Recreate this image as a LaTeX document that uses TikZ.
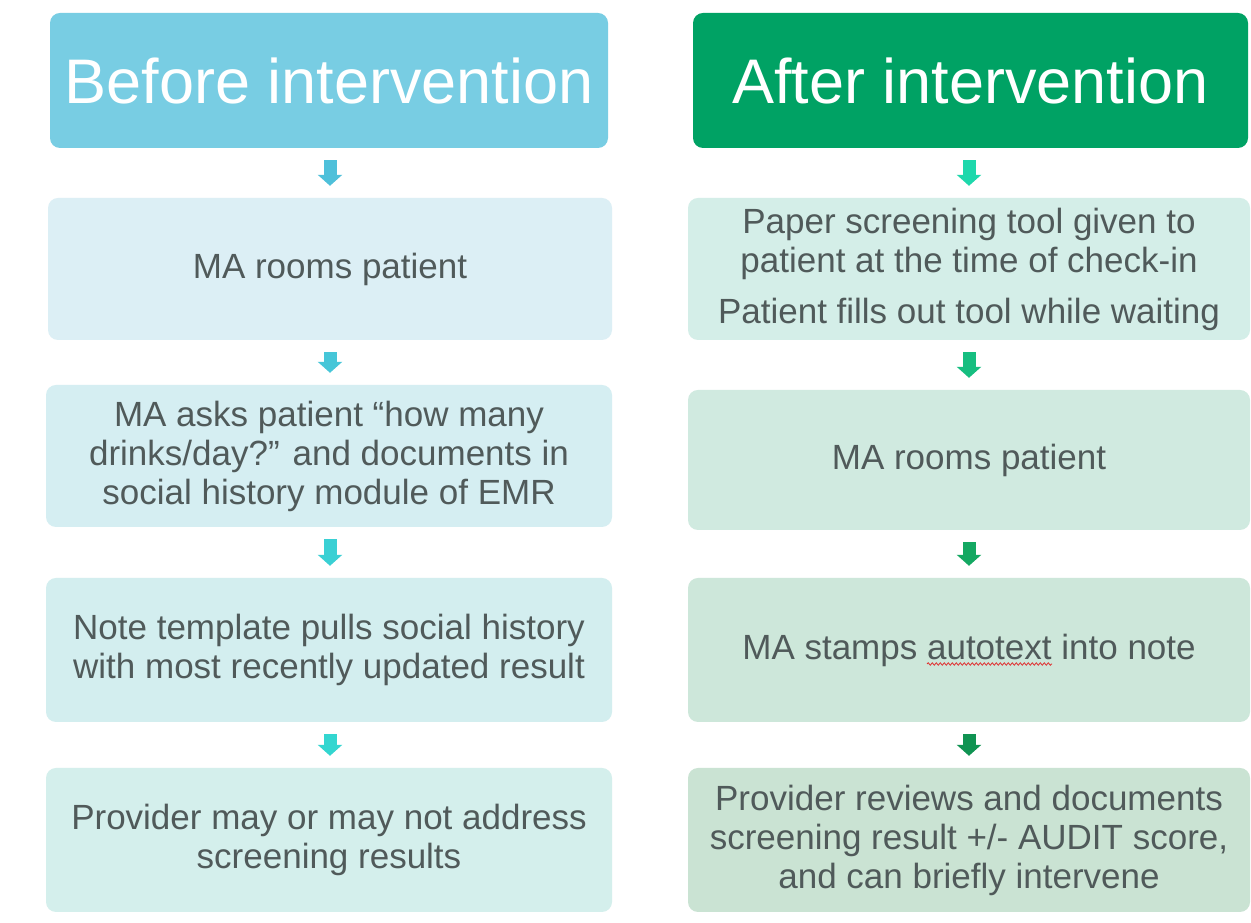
\documentclass[tikz,border=0pt]{standalone}
\usepackage{fontspec}
\setmainfont{Liberation Sans}
\usetikzlibrary{arrows.meta,decorations.pathmorphing}
\definecolor{hdrleft}{HTML}{78CDE3}
\definecolor{hdrright}{HTML}{00A264}
\definecolor{txtgray}{HTML}{505A5A}
\definecolor{lfillA}{HTML}{DCEFF5}
\definecolor{lfillB}{HTML}{D5EEF2}
\definecolor{lfillC}{HTML}{D3EEEF}
\definecolor{lfillD}{HTML}{D4EFEC}
\definecolor{rfillA}{HTML}{D4EEE8}
\definecolor{rfillB}{HTML}{D0EAE0}
\definecolor{rfillC}{HTML}{CDE7DA}
\definecolor{rfillD}{HTML}{CAE3D3}
\definecolor{larA}{HTML}{4EC0DA}
\definecolor{larB}{HTML}{46C6D8}
\definecolor{larC}{HTML}{3AD0D4}
\definecolor{larD}{HTML}{33D6D0}
\definecolor{rarA}{HTML}{1ED8AC}
\definecolor{rarB}{HTML}{16BE80}
\definecolor{rarC}{HTML}{14A862}
\definecolor{rarD}{HTML}{109352}
\definecolor{spellred}{HTML}{E03030}
\begin{document}
\begin{tikzpicture}[x=1pt,y=1pt,
  hdrbox/.style={rounded corners=10pt, inner sep=0pt, text=white,
    font=\fontsize{63}{70}\selectfont, anchor=center},
  stepbox/.style={rounded corners=10pt, inner sep=0pt, text=txtgray,
    align=center, font=\fontsize{35}{39}\selectfont, anchor=center},
  flowarrow/.style={line width=13pt, -{Triangle[width=24pt,length=11pt]},
    shorten <=12pt, shorten >=12pt}
]
\useasboundingbox (0,0) rectangle (1251,923);
\fill[white] (0,0) rectangle (1251,923);

% left column
\node[hdrbox, fill=hdrleft, minimum width=558pt, minimum height=135pt] (hl) at (329,842.5) {Before intervention};
\node[stepbox, fill=lfillA, minimum width=564pt, minimum height=142pt] (l1) at (330,654) {MA rooms patient};
\node[stepbox, fill=lfillB, minimum width=566pt, minimum height=142pt] (l2) at (329,467) {MA asks patient “how many\\drinks/day?” and documents in\\social history module of EMR};
\node[stepbox, fill=lfillC, minimum width=566pt, minimum height=144pt] (l3) at (329,273) {Note template pulls social history\\with most recently updated result};
\node[stepbox, fill=lfillD, minimum width=566pt, minimum height=144pt] (l4) at (329,83) {Provider may or may not address\\screening results};

% right column
\node[hdrbox, fill=hdrright, minimum width=555pt, minimum height=135pt] (hr) at (970.5,842.5) {After intervention};
\node[stepbox, fill=rfillA, minimum width=562pt, minimum height=142pt] (r1) at (969,654) {Paper screening tool given to\\patient at the time of check-in\\[12pt]Patient fills out tool while waiting};
\node[stepbox, fill=rfillB, minimum width=562pt, minimum height=140pt] (r2) at (969,463) {MA rooms patient};
\node[stepbox, fill=rfillC, minimum width=562pt, minimum height=144pt] (r3) at (969,273) {MA stamps autotext into note};
\node[stepbox, fill=rfillD, minimum width=562pt, minimum height=144pt] (r4) at (969,83) {Provider reviews and documents\\screening result +/- AUDIT score,\\and can briefly intervene};

% spell-check underline under "autotext"
\coordinate (wavyA) at ([shift={(-42pt,-14pt)}]r3.center);
\coordinate (wavyB) at ([shift={(83pt,-14pt)}]r3.center);
\draw[spellred, line width=0.8pt, decorate,
  decoration={snake, amplitude=1.2pt, segment length=4pt}] (wavyA) -- (wavyB);

% arrows left
\draw[flowarrow, larA] (hl.south -| l1.north) -- (l1.north);
\draw[flowarrow, larB] (l1.south) -- (l2.north -| l1.south);
\draw[flowarrow, larC] (l2.south -| l1.south) -- (l3.north -| l1.south);
\draw[flowarrow, larD] (l3.south -| l1.south) -- (l4.north -| l1.south);

% arrows right
\draw[flowarrow, rarA] (hr.south -| r1.north) -- (r1.north);
\draw[flowarrow, rarB] (r1.south) -- (r2.north);
\draw[flowarrow, rarC] (r2.south) -- (r3.north);
\draw[flowarrow, rarD] (r3.south) -- (r4.north);
\end{tikzpicture}
\end{document}
